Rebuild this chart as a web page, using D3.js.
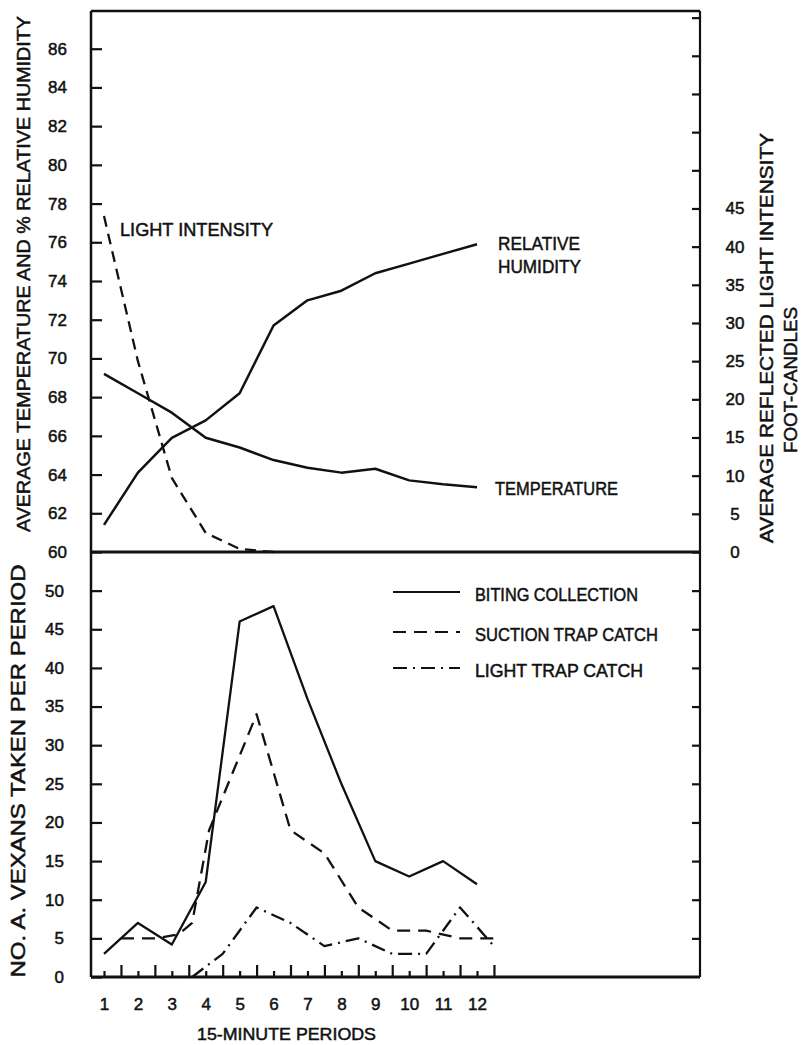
<!DOCTYPE html>
<html>
<head>
<meta charset="utf-8">
<script src="https://cdn.jsdelivr.net/npm/d3@7"></script>
<style>
body { margin: 0; background: #fff; }
text { font-family: "Liberation Sans", Arial, sans-serif; fill: #111; stroke: #111; stroke-width: 0.5px; }
</style>
</head>
<body>
<div id="chart"></div>
<script>
// upper panel: weather readings per 15-minute period
var periods = [1, 2, 3, 4, 5, 6, 7, 8, 9, 10, 11, 12];
var temperature = [69.2, 68.2, 67.2, 65.9, 65.4, 64.75, 64.35, 64.1, 64.3, 63.7, 63.5, 63.35];
var humidity = [61.4, 64.1, 65.9, 66.8, 68.2, 71.7, 73.0, 73.5, 74.4, 74.9, 75.4, 75.9];
var lightPeriods = [1, 2, 3, 4, 5, 6];
var lightIntensity = [44, 25, 9.7, 2.5, 0.4, 0];

// lower panel: mosquito counts
var biting = [3, 7, 4.2, 12.3, 46, 48, 36, 25, 15, 13, 15, 12];
var suctionPeriods = [1.5, 2.5, 3.2, 3.6, 4.1, 5.5, 6.5, 7.5, 8.5, 9.5, 10.5, 11.5, 12.5];
var suction = [5, 5, 5.5, 7, 19, 34, 19, 16, 9, 6, 6, 5, 5];
var lightTrapPeriods = [3.6, 4.5, 5.5, 6.5, 7.5, 8.5, 9.5, 10.5, 11.5, 12.5];
var lightTrap = [0, 3, 9, 7, 4, 5, 3, 3, 9, 4];

// tick values
var tempTicks = d3.range(60, 87, 2);
var lightTicks = d3.range(0, 71, 5);
var countTicks = d3.range(0, 51, 5);
var periodTicks = d3.range(1, 13);
var boundaryTicks = d3.range(1.5, 13, 1);

var width = 801, height = 1045;
var frame = {left: 91, right: 700, top: 11, mid: 552, bottom: 977};

var svg = d3.select("#chart")
    .append("svg")
    .attr("width", width)
    .attr("height", height);

var x = d3.scaleLinear().domain([1, 12]).range([104, 477]);
var yTemp = d3.scaleLinear().domain([60, 88]).range([frame.mid, 10]);
var yLight = d3.scaleLinear().domain([0, 71]).range([frame.mid, 10]);
var yCount = d3.scaleLinear().domain([0, 55]).range([frame.bottom, frame.mid]);

function styleAxis(g, size){
    g.select(".domain").remove();
    g.selectAll(".tick line").attr("stroke", "#111").attr("stroke-width", 2.2);
    g.selectAll(".tick text")
        .attr("font-size", size)
        .attr("fill", "#111")
        .attr("font-family", "'Liberation Sans', Arial, sans-serif");
}

// left axes
svg.append("g")
    .attr("transform", "translate(" + frame.left + ",0)")
    .call(d3.axisLeft(yTemp).tickValues(tempTicks).tickSize(-11).tickPadding(24))
    .call(styleAxis, 17);

svg.append("g")
    .attr("transform", "translate(" + frame.left + ",0)")
    .call(d3.axisLeft(yCount).tickValues(countTicks).tickSize(-11).tickPadding(27))
    .call(styleAxis, 17);

// right axes
var rightAxis = svg.append("g")
    .attr("transform", "translate(" + frame.right + ",0)")
    .call(d3.axisRight(yLight).tickValues(lightTicks).tickSize(-8)
        .tickFormat(function(d){ return d <= 45 ? d : ""; }))
    .call(styleAxis, 17);
rightAxis.selectAll(".tick text").attr("text-anchor", "middle").attr("x", 35);

svg.append("g")
    .attr("transform", "translate(" + frame.right + ",0)")
    .call(d3.axisRight(yCount).tickValues(countTicks.slice(1)).tickSize(-8).tickFormat(""))
    .call(styleAxis, 17);

// bottom axis: short ticks at period centres, tall ticks at boundaries
svg.append("g")
    .attr("transform", "translate(0," + frame.bottom + ")")
    .call(d3.axisBottom(x).tickValues(periodTicks).tickSize(-6).tickPadding(21))
    .call(styleAxis, 17);

svg.append("g")
    .attr("transform", "translate(0," + frame.bottom + ")")
    .call(d3.axisBottom(x).tickValues(boundaryTicks).tickSize(-12).tickFormat(""))
    .call(styleAxis, 17);

// frame and panel divider
var frameLines = [
    [frame.left, frame.top, frame.right, frame.top, 2.5],
    [frame.left, frame.top, frame.left, frame.bottom, 2.5],
    [frame.right, frame.top, frame.right, frame.bottom, 2.2],
    [frame.left, frame.mid, frame.right, frame.mid, 3],
    [frame.left, frame.bottom, frame.right, frame.bottom, 3]
];
svg.selectAll(".frame")
    .data(frameLines).enter().append("line")
    .attr("class", "frame")
    .attr("x1", function(d){ return d[0]; })
    .attr("y1", function(d){ return d[1]; })
    .attr("x2", function(d){ return d[2]; })
    .attr("y2", function(d){ return d[3]; })
    .attr("stroke", "#111")
    .attr("stroke-width", function(d){ return d[4]; });

function drawSeries(xs, ys, yScale, dash, w){
    var line = d3.line()
        .x(function(d){ return x(d[0]); })
        .y(function(d){ return yScale(d[1]); });
    svg.append("path")
        .datum(d3.zip(xs, ys))
        .attr("d", line)
        .attr("fill", "none")
        .attr("stroke", "#111")
        .attr("stroke-width", w)
        .attr("stroke-linejoin", "round")
        .attr("stroke-dasharray", dash);
}

drawSeries(periods, temperature, yTemp, null, 2.5);
drawSeries(periods, humidity, yTemp, null, 2.5);
drawSeries(lightPeriods, lightIntensity, yLight, "11,7", 2.3);

drawSeries(periods, biting, yCount, null, 2.3);
drawSeries(suctionPeriods, suction, yCount, "13,8", 2.3);
drawSeries(lightTrapPeriods, lightTrap, yCount, "14,6,2,6", 2.3);

// text helper; len fixes the lettering width
function label(txt, px, py, len, size, opts){
    opts = opts || {};
    var t = svg.append("text")
        .text(txt)
        .attr("font-size", size)
        .attr("textLength", len)
        .attr("lengthAdjust", "spacingAndGlyphs");
    if(opts.rotate){
        t.attr("transform", "translate(" + px + "," + py + ") rotate(-90)")
            .attr("text-anchor", "middle")
            .attr("dy", "0.35em");
    }else{
        t.attr("x", px).attr("y", py)
            .attr("text-anchor", opts.anchor || "start");
    }
    return t;
}

// series labels
label("LIGHT INTENSITY", 120, 236, 153, 19);
label("RELATIVE", 498, 250, 82, 19);
label("HUMIDITY", 498, 273, 83, 19);
label("TEMPERATURE", 495, 495, 123, 19);

// legend
var legend = [
    {name: "BITING COLLECTION", dash: null, y: 592, len: 163},
    {name: "SUCTION TRAP CATCH", dash: "13,8", y: 632, len: 183},
    {name: "LIGHT TRAP CATCH", dash: "14,6,2,6", y: 668, len: 168}
];
legend.forEach(function(d){
    svg.append("line")
        .attr("x1", 393).attr("x2", 460)
        .attr("y1", d.y).attr("y2", d.y)
        .attr("stroke", "#111")
        .attr("stroke-width", 2.2)
        .attr("stroke-dasharray", d.dash);
    label(d.name, 475, d.y + 9, d.len, 18);
});

// axis titles
label("AVERAGE TEMPERATURE AND % RELATIVE HUMIDITY", 23, 274, 516, 19, {rotate: true});
label("NO. A. VEXANS TAKEN PER PERIOD", 18, 771, 413, 20, {rotate: true});
label("AVERAGE REFLECTED LIGHT INTENSITY", 767, 338, 410, 18, {rotate: true});
label("FOOT-CANDLES", 791, 380, 146, 18, {rotate: true});
label("15-MINUTE PERIODS", 286.5, 1040, 179, 17, {anchor: "middle"});
</script>
</body>
</html>
